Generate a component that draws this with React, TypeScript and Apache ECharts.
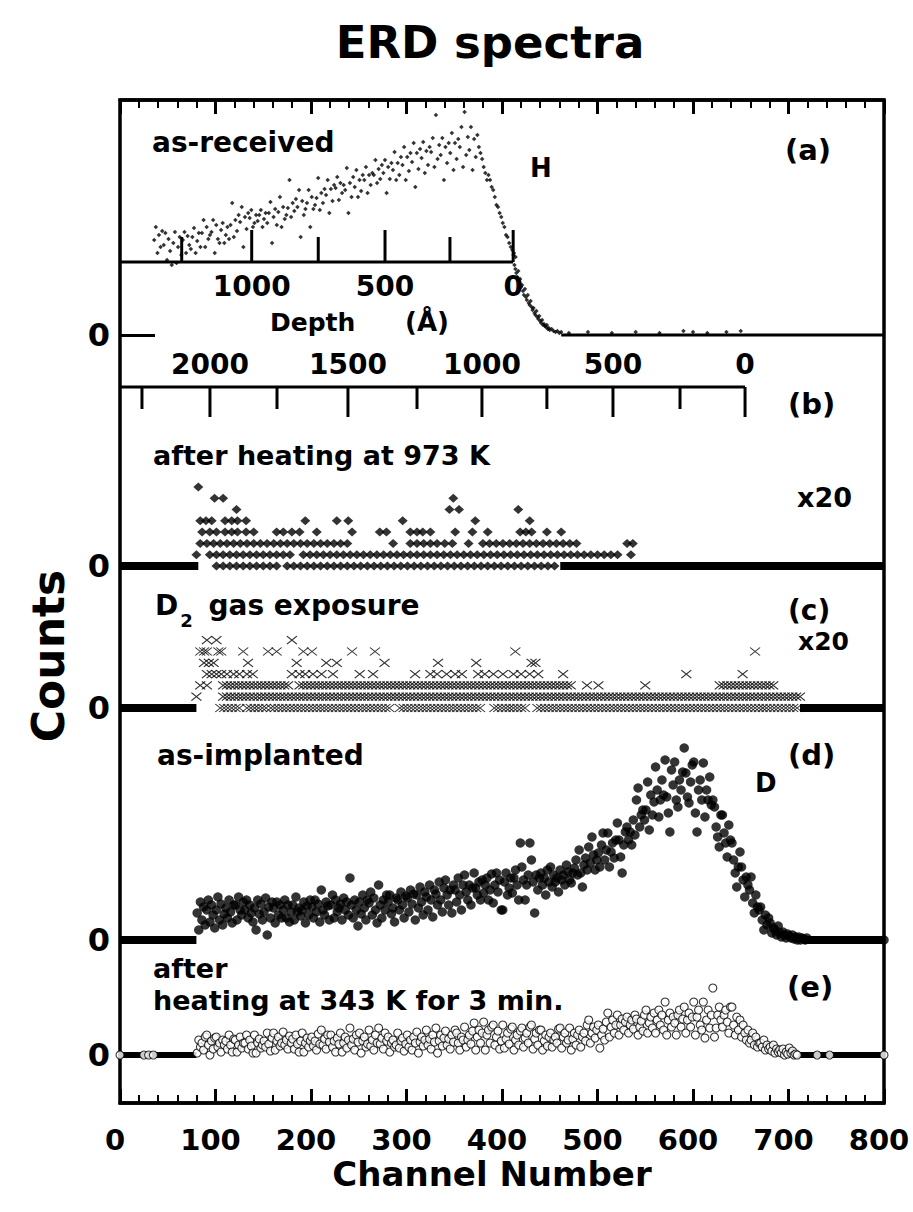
import React, { useEffect, useRef } from "react";
import * as echarts from "echarts";

const FONT = "'DejaVu Sans', 'Liberation Sans', Arial, sans-serif";

// ---------- shared channel axis ----------
const CH_MIN = 0;
const CH_MAX = 800;
const CH_STEP = 100;

// ---------- (a) as-received, H (counts, arb. units) ----------
// rows: [bin start channel, six readings across the 10-channel bin]
const hRows = [
  [35, 95, 108, 82, 100, 88, 104],
  [45, 90, 102, 75, 96, 84, 70],
  [55, 92, 103, 72, 88, 98, 80],
  [65, 95, 103, 82, 99, 90, 86],
  [75, 98, 107, 82, 94, 102, 88],
  [85, 102, 115, 88, 108, 96, 100],
  [95, 103, 115, 82, 110, 96, 92],
  [105, 105, 112, 92, 100, 108, 96],
  [115, 110, 132, 98, 115, 104, 120],
  [125, 113, 128, 88, 118, 106, 122],
  [135, 117, 125, 108, 112, 120, 114],
  [145, 120, 125, 108, 116, 122, 112],
  [155, 122, 133, 92, 118, 126, 110],
  [165, 123, 138, 108, 128, 116, 120],
  [175, 127, 155, 118, 132, 124, 136],
  [185, 128, 145, 98, 134, 120, 126],
  [195, 132, 145, 108, 138, 126, 130],
  [205, 137, 157, 125, 142, 132, 146],
  [215, 140, 155, 122, 146, 134, 150],
  [225, 147, 158, 135, 152, 142, 150],
  [235, 145, 167, 122, 152, 138, 158],
  [245, 148, 165, 138, 155, 144, 160],
  [255, 155, 168, 142, 160, 150, 162],
  [265, 160, 175, 152, 166, 156, 170],
  [275, 162, 175, 142, 168, 156, 172],
  [285, 165, 183, 155, 172, 160, 178],
  [295, 170, 188, 155, 178, 164, 182],
  [305, 173, 192, 148, 182, 166, 186],
  [315, 177, 193, 162, 184, 170, 188],
  [325, 183, 197, 168, 220, 176, 190],
  [335, 180, 197, 155, 188, 172, 192],
  [345, 182, 202, 165, 192, 176, 196],
  [355, 188, 208, 168, 223, 180, 198],
  [365, 185, 208, 165, 196, 178, 200],
  [375, 188, 182, 176, 168, 162, 155],
  [385, 160, 155, 148, 145, 138, 130],
  [395, 128, 122, 118, 112, 108, 100],
  [405, 98, 92, 88, 85, 82, 78],
];
const hFall = [
  [412, 80], [413, 70], [414, 66], [415, 62], [416, 58], [417, 64], [418, 52], [419, 56],
  [420, 48], [421, 50], [422, 44], [423, 40], [424, 46], [425, 38], [426, 35], [427, 40],
  [428, 32], [429, 30], [430, 34], [431, 28], [432, 25], [433, 27], [434, 22], [435, 20],
  [436, 24], [437, 18], [438, 16], [439, 19], [440, 14], [441, 12], [442, 15], [443, 10],
  [444, 11], [445, 9], [446, 8], [447, 10], [448, 6], [449, 7], [450, 5], [452, 6],
  [454, 4], [456, 3], [458, 4], [460, 2], [462, 3],
];
const hZero = [[470, 2], [490, 3], [515, 2], [540, 3], [565, 2], [590, 4], [600, 3], [615, 2], [635, 3], [650, 4]];
const hBaseline = [[462, 800]];

// depth scales: [depth (Å), channel]
const depthA = [[1250, 64.6], [1000, 137.9], [750, 207.6], [500, 277.5], [250, 345.5], [0, 411.7]];
const depthALabels = [1000, 500, 0];
const depthALevel = 73; // counts level of the inner depth axis in panel (a)
const depthB = [
  [2250, 23], [2000, 94.2], [1750, 164.4], [1500, 238.7], [1250, 311],
  [1000, 379], [750, 447], [500, 516.2], [250, 586.4], [0, 654.5],
];
const depthBLabels = [2000, 1500, 1000, 500, 0];

// ---------- (b) after heating at 973 K (counts x20) ----------
const bLevel7 = [82];
const bLevel6 = [99, 108, 349];
const bLevel5 = [122, 345, 355, 417];
const bLevel4 = [84, 90, 96, 110, 117, 123, 132, 194, 227, 239, 296, 372, 429];
const bLevel3 = [86, 94, 101, 110, 117, 123, 132, 140, 164, 171, 180, 188, 206, 243, 272, 279, 304, 311, 317, 325, 351, 369, 385, 419, 425, 431, 447, 462];
const bLevel2 = [286, 340, 348, 365, 531, 537];
const bLevel1 = [80, 535];
// dense rows: [level, first channel, last channel]
const bRuns = [[0, 101, 168], [0, 175, 461], [1, 94, 181], [1, 192, 521], [2, 84, 242], [2, 304, 332], [2, 380, 481]];
const bBaseline = [[0, 82], [461, 800]];

// ---------- (c) D2 gas exposure (counts x20) ----------
const cLevel6 = [91, 101, 180];
const cLevel5 = [84, 88, 91, 103, 106, 129, 155, 164, 192, 201, 243, 267, 414, 665];
const cLevel4 = [88, 93, 98, 134, 185, 216, 227, 277, 333, 373, 431, 435];
const cLevel3 = [91, 96, 101, 106, 112, 119, 125, 133, 139, 180, 188, 194, 202, 211, 223, 251, 265, 309, 325, 332, 342, 351, 358, 375, 382, 391, 401, 412, 420, 429, 438, 464, 593, 652];
const cLevel2 = [84, 91, 489, 501, 550];
const cLevel1 = [80];
const cRuns = [[0, 105, 126], [0, 133, 154], [0, 158, 285], [0, 293, 380], [0, 392, 425], [0, 437, 712], [1, 108, 715], [2, 108, 178], [2, 188, 474], [2, 628, 687]];
const cBaseline = [[0, 80], [712, 800]];

// ---------- (d) as-implanted, D ----------
const dRows = [
  [80, 27, 10, 38, 20, 33, 15], [90, 30, 40, 18, 35, 25, 12], [100, 30, 43, 20, 36, 15, 26],
  [110, 32, 22, 40, 28, 17, 35], [120, 35, 20, 43, 30, 25, 38], [130, 30, 40, 22, 35, 27, 18],
  [140, 32, 10, 40, 26, 36, 20], [150, 28, 42, 5, 33, 22, 38], [160, 32, 17, 38, 25, 35, 22],
  [170, 30, 40, 22, 35, 18, 28], [180, 35, 20, 43, 28, 32, 24], [190, 30, 38, 17, 34, 25, 40],
  [200, 33, 22, 40, 28, 36, 18], [210, 50, 30, 25, 38, 34, 20], [220, 35, 45, 22, 40, 28, 32],
  [230, 36, 20, 42, 30, 38, 25], [240, 62, 35, 22, 40, 30, 14], [250, 38, 26, 45, 32, 20, 40],
  [260, 37, 48, 25, 42, 30, 17], [270, 55, 35, 22, 40, 30, 45], [280, 38, 45, 26, 32, 18, 42],
  [290, 40, 30, 48, 35, 22, 44], [300, 42, 28, 50, 36, 46, 20], [310, 45, 32, 53, 38, 25, 48],
  [320, 43, 30, 55, 40, 23, 50], [330, 46, 35, 58, 40, 28, 52], [340, 60, 45, 35, 50, 27, 55],
  [350, 50, 38, 62, 45, 30, 55], [360, 65, 48, 40, 55, 35, 52], [370, 67, 52, 45, 58, 40, 60],
  [380, 47, 55, 62, 40, 50, 66], [390, 37, 55, 67, 48, 60, 30], [400, 30, 58, 67, 45, 52, 62],
  [410, 47, 62, 70, 55, 40, 97], [420, 73, 60, 40, 55, 65, 97], [430, 80, 58, 27, 65, 50, 62],
  [440, 67, 55, 62, 45, 70, 58], [450, 73, 53, 65, 58, 62, 48], [460, 70, 60, 65, 55, 75, 68],
  [470, 60, 57, 67, 72, 80, 65], [480, 90, 67, 53, 75, 82, 70], [490, 93, 77, 103, 85, 70, 80],
  [500, 87, 73, 95, 107, 80, 90], [510, 107, 73, 88, 97, 82, 100], [520, 117, 100, 83, 67, 95, 108],
  [530, 113, 100, 108, 95, 120, 105], [540, 140, 152, 113, 125, 130, 120], [550, 130, 158, 110, 145, 125, 138],
  [560, 173, 150, 123, 140, 160, 145], [570, 180, 143, 127, 108, 170, 155], [580, 178, 140, 133, 160, 150, 168],
  [590, 192, 167, 143, 137, 158, 175], [600, 178, 127, 108, 150, 160, 140], [610, 177, 123, 150, 140, 163, 135],
  [620, 140, 133, 113, 103, 93, 125], [630, 125, 107, 97, 83, 115, 100], [640, 97, 80, 67, 53, 73, 88],
  [650, 73, 60, 43, 63, 55, 50], [660, 63, 37, 27, 45, 33, 30], [670, 33, 20, 10, 25, 15, 22],
  [680, 17, 7, 12, 10, 5, 14], [690, 7, 3, 8, 5, 2, 6], [700, 4, 2, 5, 1, 3, 0], [710, 3, 0, 2, 1, 0, 2],
];
const dZero = [800];
const dBaseline = [[0, 80], [715, 800]];

// ---------- (e) after heating at 343 K for 3 min ----------
const eRows = [
  [80, 2, 15, 8, 12, 5, 18], [90, 20, 10, 0, 14, 6, 17], [100, 18, 8, 12, 3, 15, 10],
  [110, 14, 6, 20, 10, 3, 16], [120, 15, 3, 10, 18, 7, 12], [130, 12, 20, 6, 15, 9, 2],
  [140, 20, 2, 12, 16, 7, 10], [150, 14, 8, 22, 11, 4, 17], [160, 22, 5, 14, 18, 9, 12],
  [170, 23, 10, 15, 6, 19, 12], [180, 16, 6, 20, 11, 3, 14], [190, 22, 3, 12, 17, 8, 14],
  [200, 18, 9, 14, 5, 21, 11], [210, 25, 10, 16, 6, 20, 13], [220, 20, 8, 14, 3, 17, 11],
  [230, 22, 3, 12, 18, 7, 15], [240, 27, 10, 16, 5, 20, 13], [250, 22, 2, 14, 18, 8, 11],
  [260, 25, 9, 15, 5, 20, 12], [270, 27, 11, 17, 6, 22, 14], [280, 18, 3, 12, 15, 8, 10],
  [290, 22, 7, 14, 17, 4, 11], [300, 20, 8, 15, 5, 18, 12], [310, 23, 2, 13, 18, 9, 15],
  [320, 25, 10, 16, 6, 20, 13], [330, 27, 2, 14, 20, 9, 17], [340, 24, 10, 16, 6, 20, 13],
  [350, 25, 22, 12, 5, 18, 15], [360, 28, 8, 15, 20, 11, 24], [370, 32, 5, 18, 25, 12, 22],
  [380, 33, 5, 20, 25, 12, 28], [390, 30, 10, 18, 24, 6, 14], [400, 30, 7, 16, 22, 11, 26],
  [410, 28, 5, 15, 20, 10, 24], [420, 27, 8, 17, 22, 12, 28], [430, 30, 6, 16, 22, 10, 25],
  [440, 25, 5, 14, 20, 9, 18], [450, 22, 8, 15, 18, 12, 26], [460, 27, 7, 18, 22, 12, 15],
  [470, 27, 5, 16, 22, 10, 20], [480, 25, 8, 18, 22, 14, 30], [490, 35, 12, 22, 28, 17, 25],
  [500, 30, 7, 20, 26, 15, 33], [510, 42, 18, 28, 35, 22, 30], [520, 40, 20, 30, 36, 25, 33],
  [530, 38, 22, 30, 35, 26, 40], [540, 36, 20, 28, 34, 24, 40], [550, 45, 22, 32, 38, 27, 42],
  [560, 22, 35, 45, 30, 40, 25], [570, 53, 20, 35, 42, 28, 38], [580, 32, 20, 40, 45, 28, 36],
  [590, 48, 22, 35, 42, 28, 38], [600, 53, 20, 38, 45, 30, 25], [610, 53, 17, 35, 45, 27, 40],
  [620, 67, 18, 27, 40, 48, 35], [630, 28, 40, 45, 33, 22, 48], [640, 48, 30, 20, 38, 25, 35],
  [650, 18, 30, 22, 15, 25, 12], [660, 15, 22, 10, 18, 8, 12], [670, 12, 8, 15, 5, 10, 6],
  [680, 8, 4, 10, 2, 6, 3], [690, 5, 2, 6, 0, 3, 1], [700, 7, 2, 4, 0, 1, 0],
];
const eZero = [0, 25, 30, 35, 730, 743, 800];
const eBaseline = [[0, 80], [705, 800]];

// ---------- helpers ----------
const BIN_OFFSETS = [0.8, 2.5, 4.2, 5.8, 7.5, 9.2];
const rowsToPoints = (rows: number[][]) => {
  const out: number[][] = [];
  rows.forEach((r) => r.slice(1).forEach((v, i) => out.push([r[0] + BIN_OFFSETS[i], v])));
  return out;
};
const levelPoints = (chs: number[], level: number) => chs.map((c) => [c, level]);
const runPoints = (runs: number[][], step: number) => {
  const out: number[][] = [];
  runs.forEach(([lv, s, e]) => {
    for (let c = s; c <= e; c += step) out.push([c, lv]);
  });
  return out;
};

const black = "#000";

function baselineSeries(segs: number[][], gi: number, width: number) {
  return segs.map((s) => ({
    type: "line",
    xAxisIndex: gi,
    yAxisIndex: gi,
    data: [[s[0], 0], [s[1], 0]],
    symbol: "none",
    silent: true,
    clip: false,
    lineStyle: { color: black, width, cap: "butt" },
    z: 3,
  }));
}

function depthAxisSeries(ticks: number[][], labels: number[], gi: number, level: number, dir: number, labelDy: number, longLen: number, shortLen: number) {
  return {
    type: "custom",
    xAxisIndex: gi,
    yAxisIndex: gi,
    clip: false,
    silent: true,
    data: ticks.map(([d, ch]) => [ch, level, d]),
    renderItem: (params: any, api: any) => {
      const p = api.coord([api.value(0), api.value(1)]);
      const depth = api.value(2);
      const major = labels.indexOf(depth) >= 0;
      const len = major ? longLen : shortLen;
      const children: any[] = [
        {
          type: "line",
          shape: { x1: p[0], y1: p[1], x2: p[0], y2: p[1] + dir * len },
          style: { stroke: black, lineWidth: 3 },
        },
      ];
      if (major) {
        children.push({
          type: "text",
          style: {
            text: String(depth),
            x: p[0],
            y: p[1] + labelDy,
            align: "center",
            verticalAlign: "middle",
            fontSize: 28,
            fontWeight: "bold",
            fontFamily: FONT,
            fill: black,
          },
        });
      }
      return { type: "group", children };
    },
  };
}

function buildOption(): any {
  const L = 120;
  const R = 29;
  const grids = [
    { top: 100, height: 287 },
    { top: 387, height: 179 },
    { top: 566, height: 142 },
    { top: 708, height: 232 },
    { top: 940, height: 163 },
  ].map((g) => ({ ...g, left: L, right: R, outerBoundsMode: "none", containLabel: false }));
  grids.push({
    top: 100,
    height: 1003,
    left: L,
    right: R,
    show: true,
    borderColor: black,
    borderWidth: 3.5,
    backgroundColor: "transparent",
    outerBoundsMode: "none",
    containLabel: false,
  } as any);

  const yRanges = [
    [-52, 235],
    [0, 15.84],
    [0, 12.57],
    [0, 232],
    [-48, 115],
  ];

  const frameAxis = {
    show: true,
    axisLine: { show: true, onZero: false, lineStyle: { color: black, width: 3.5 } },
    axisTick: { show: true, inside: true, length: 14, lineStyle: { color: black, width: 3 } },
    minorTick: { show: true, splitNumber: 5, length: 8, lineStyle: { color: black, width: 2 } },
  };

  const xAxis: any[] = [];
  for (let i = 0; i < 6; i++) {
    const base: any = {
      gridIndex: i,
      type: "value",
      min: CH_MIN,
      max: CH_MAX,
      interval: CH_STEP,
      splitLine: { show: false },
      axisLine: { show: false, onZero: false },
      axisLabel: { show: false },
      axisTick: { show: false },
      minorTick: { show: false },
      show: false,
    };
    if (i === 0) {
      Object.assign(base, frameAxis, { position: "top" });
    }
    if (i === 4) {
      Object.assign(base, frameAxis, {
        position: "bottom",
        axisLabel: {
          show: true,
          fontSize: 29,
          fontWeight: "bold",
          fontFamily: FONT,
          color: black,
          margin: 22,
          padding: [0, 10, 0, 0],
        },
        name: "Channel Number",
        nameLocation: "middle",
        nameGap: 54,
        nameTextStyle: {
          fontSize: 34,
          fontWeight: "bold",
          fontFamily: FONT,
          color: black,
          padding: [0, 20, 0, 0],
        },
      });
    }
    xAxis.push(base);
  }

  const yAxis: any[] = [];
  for (let i = 0; i < 6; i++) {
    if (i === 5) {
      yAxis.push({ gridIndex: 5, type: "value", min: 0, max: 1, show: false, splitLine: { show: false } });
      continue;
    }
    yAxis.push({
      gridIndex: i,
      type: "value",
      min: yRanges[i][0],
      max: yRanges[i][1],
      splitLine: { show: false },
      axisLine: { show: false, onZero: false },
      axisTick:
        i === 0
          ? { show: true, inside: true, length: 35, customValues: [0], lineStyle: { color: black, width: 3 } }
          : { show: false },
      axisLabel: {
        show: true,
        customValues: [0],
        formatter: (v: number) => (v === 0 ? "0" : ""),
        fontSize: 32,
        fontWeight: "bold",
        fontFamily: FONT,
        color: black,
        margin: 10,
        showMinLabel: false,
        showMaxLabel: false,
      },
    });
  }

  const series: any[] = [];

  // (a)
  series.push({
    type: "scatter",
    xAxisIndex: 0,
    yAxisIndex: 0,
    data: [...rowsToPoints(hRows), ...hFall, ...hZero],
    symbol: "diamond",
    symbolSize: 4.5,
    itemStyle: { color: black },
    silent: true,
    progressive: 0,
    z: 4,
  });
  series.push(...baselineSeries(hBaseline, 0, 3));
  series.push({
    type: "line",
    xAxisIndex: 0,
    yAxisIndex: 0,
    data: [[CH_MIN, depthALevel], [depthA[depthA.length - 1][1], depthALevel]],
    symbol: "none",
    silent: true,
    clip: false,
    lineStyle: { color: black, width: 3 },
    z: 3,
  });
  series.push(depthAxisSeries(depthA, depthALabels, 0, depthALevel, -1, 24, 32, 25));

  // depth axis for (b), drawn at the top edge of panel (b)
  series.push({
    type: "line",
    xAxisIndex: 1,
    yAxisIndex: 1,
    data: [[CH_MIN, yRanges[1][1]], [depthB[depthB.length - 1][1], yRanges[1][1]]],
    symbol: "none",
    silent: true,
    clip: false,
    lineStyle: { color: black, width: 3 },
    z: 3,
  });
  series.push(depthAxisSeries(depthB, depthBLabels, 1, yRanges[1][1], 1, -23, 30, 22));

  // (b)
  const bPts = [
    ...runPoints(bRuns, 7),
    ...levelPoints(bLevel1, 1),
    ...levelPoints(bLevel2, 2),
    ...levelPoints(bLevel3, 3),
    ...levelPoints(bLevel4, 4),
    ...levelPoints(bLevel5, 5),
    ...levelPoints(bLevel6, 6),
    ...levelPoints(bLevel7, 7),
  ];
  series.push(...baselineSeries(bBaseline, 1, 8));
  series.push({
    type: "scatter",
    xAxisIndex: 1,
    yAxisIndex: 1,
    data: bPts,
    symbol: "diamond",
    symbolSize: [10, 9],
    itemStyle: { color: black },
    silent: true,
    progressive: 0,
    clip: false,
    z: 4,
  });

  // (c)
  const cPts = [
    ...runPoints(cRuns, 4),
    ...levelPoints(cLevel1, 1),
    ...levelPoints(cLevel2, 2),
    ...levelPoints(cLevel3, 3),
    ...levelPoints(cLevel4, 4),
    ...levelPoints(cLevel5, 5),
    ...levelPoints(cLevel6, 6),
  ];
  series.push(...baselineSeries(cBaseline, 2, 8));
  series.push({
    type: "scatter",
    xAxisIndex: 2,
    yAxisIndex: 2,
    data: cPts,
    symbol: "path://M0 0L10 8M10 0L0 8",
    symbolSize: [10, 8],
    itemStyle: { color: "none", borderColor: black, borderWidth: 1.1 },
    silent: true,
    progressive: 0,
    clip: false,
    z: 4,
  });

  // (d)
  series.push(...baselineSeries(dBaseline, 3, 8));
  series.push({
    type: "scatter",
    xAxisIndex: 3,
    yAxisIndex: 3,
    data: [...rowsToPoints(dRows), ...levelPoints(dZero, 0)],
    symbol: "circle",
    symbolSize: 9.5,
    itemStyle: { color: black },
    silent: true,
    progressive: 0,
    clip: false,
    z: 4,
  });

  // (e)
  series.push(...baselineSeries(eBaseline, 4, 6));
  series.push({
    type: "scatter",
    xAxisIndex: 4,
    yAxisIndex: 4,
    data: [...rowsToPoints(eRows), ...levelPoints(eZero, 0)],
    symbol: "circle",
    symbolSize: 8,
    itemStyle: { color: "#fff", borderColor: black, borderWidth: 1.1 },
    silent: true,
    progressive: 0,
    clip: false,
    z: 4,
  });

  const txt = (text: string, x: number, y: number, size: number, align = "left", extra: any = {}) => ({
    type: "text",
    x,
    y,
    silent: true,
    z: 10,
    ...extra,
    style: {
      text,
      fontSize: size,
      fontWeight: "bold",
      fontFamily: FONT,
      fill: black,
      align,
      verticalAlign: "middle",
      ...(extra.style || {}),
    },
  });

  const graphic = [
    txt("ERD spectra", 490, 42, 45, "center"),
    txt("Counts", 48, 656, 44, "center", { rotation: Math.PI / 2 }),
    txt("as-received", 152, 142, 28),
    txt("H", 530, 168, 26),
    txt("(a)", 785, 150, 29),
    txt("Depth", 270, 322, 25),
    txt("(Å)", 405, 322, 26),
    txt("(b)", 788, 404, 29),
    txt("after heating at 973 K", 153, 455, 27),
    txt("x20", 797, 497, 27),
    {
      type: "text",
      x: 155,
      y: 605,
      z: 10,
      silent: true,
      style: {
        text: "D{s|2} gas exposure",
        fontSize: 28,
        fontWeight: "bold",
        fontFamily: FONT,
        fill: black,
        align: "left",
        verticalAlign: "middle",
        rich: {
          s: { fontSize: 18, fontWeight: "bold", fontFamily: FONT, fill: black, padding: [30, 6, 0, 2] },
        },
      },
    },
    txt("(c)", 788, 610, 28),
    txt("x20", 798, 641, 25),
    txt("as-implanted", 157, 755, 28),
    txt("D", 755, 783, 26),
    txt("(d)", 788, 755, 29),
    txt("after", 153, 968, 27),
    txt("heating at 343 K for 3 min.", 153, 1000, 27),
    txt("(e)", 787, 987, 29),
  ];

  return {
    animation: false,
    backgroundColor: "#fff",
    grid: grids,
    xAxis,
    yAxis,
    series,
    graphic,
  };
}

export default function App() {
  const ref = useRef<HTMLDivElement>(null);
  useEffect(() => {
    if (!ref.current) return;
    const chart = echarts.init(ref.current, null, { renderer: "svg" });
    chart.setOption(buildOption());
    return () => chart.dispose();
  }, []);
  return (
    <div
      ref={ref}
      style={{ position: "fixed", left: 0, top: 0, width: 913, height: 1212, background: "#fff" }}
    />
  );
}
